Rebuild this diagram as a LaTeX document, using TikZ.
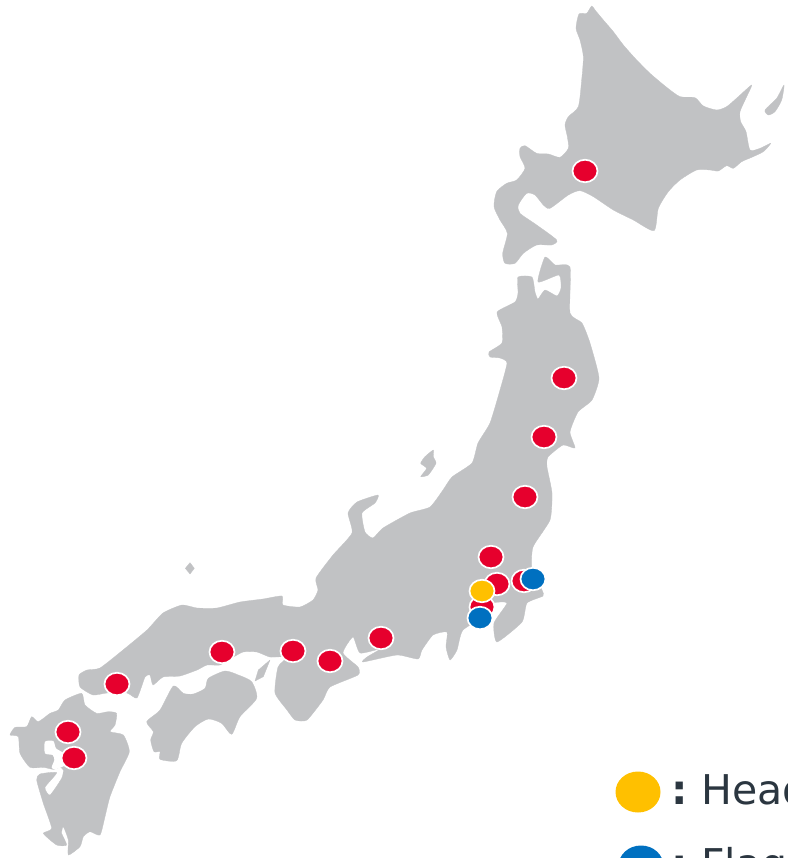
\documentclass[tikz,border=0pt]{standalone}
\usepackage{fontspec}
\setmainfont{DejaVu Sans}
\definecolor{land}{HTML}{C1C2C4}
\definecolor{redd}{HTML}{E6002D}
\definecolor{yell}{HTML}{FFC000}
\definecolor{blu}{HTML}{0070C0}
\definecolor{ink}{HTML}{2B3640}
\tikzset{
  landmass/.style={fill=land,draw=land,line width=0.3pt,line join=round},
  site/.style={ellipse,minimum width=25pt,minimum height=22.5pt,inner sep=0pt,draw=white,line width=1.7pt},
  key/.style={ellipse,inner sep=0pt,minimum width=45pt,minimum height=41pt},
  legendtext/.style={anchor=base west,inner sep=0pt,text=ink,font=\fontsize{41}{41}\selectfont}
}
\usetikzlibrary{shapes.geometric}
\begin{document}
\begin{tikzpicture}[x=1pt,y=-1pt]
\useasboundingbox (0,0) rectangle (787,858);
\clip (0,0) rectangle (787,858);
% Hokkaido
\begin{scope}[shift={(480,0)},scale=1/3]
\fill[landmass] plot[smooth cycle,tension=0.4] coordinates{(335,18)(345,30)(370,60)(400,95)(430,135)(470,180)(510,220)(560,262)(600,290)(645,293)(670,318)(710,330)(740,320)(775,290)(815,255)(800,290)(780,335)(782,365)(798,395)(810,450)(840,445)(872,430)(850,455)(815,472)(785,485)(760,505)(740,497)(715,513)(690,510)(650,510)(600,540)(565,575)(535,625)(522,692)(460,660)(400,630)(340,590)(300,572)(265,585)(210,625)(190,615)(165,585)(140,580)(115,615)(120,640)(170,675)(230,720)(215,735)(170,735)(130,760)(105,790)(75,790)(68,760)(82,700)(60,660)(42,620)(50,575)(80,550)(110,540)(135,505)(120,470)(120,445)(135,437)(170,460)(205,462)(240,472)(265,445)(262,410)(255,375)(265,350)(295,320)(305,240)(310,170)(300,120)(288,85)(297,42)(320,40)};
\fill[landmass] plot[smooth cycle,tension=0.4] coordinates{(912,255)(890,295)(855,330)(865,345)(885,335)(905,300)};
\end{scope}
% Honshu
\fill[landmass] plot[smooth cycle,tension=0.33] coordinates{(518,277)(532,277)(535,292)(538,299)(545,290)(557,296)(561,288)(559,275)(538,282)(545,257)(555,265)(570,267)(570,313)(582,323)(590,343)(599,378)(592,400)(578,412)(570,432)(575,448)(563,445)(548,457)(547,467)(552,493)(550,520)(533,547)(532,570)(542,590)(543,596)(527,603)(522,622)(497,642)(494,623)(507,603)(493,603)(490,613)(463,630)(457,650)(450,660)(446,647)(447,632)(433,635)(422,650)(418,659)(397,655)(363,662)(367,657)(380,649)(360,653)(353,637)(343,653)(358,667)(358,675)(330,687)(323,700)(307,720)(295,720)(287,710)(275,693)(278,667)(287,657)(270,657)(257,652)(243,652)(232,658)(220,665)(207,665)(197,670)(180,676)(163,677)(153,685)(150,675)(145,677)(137,698)(127,693)(107,693)(93,695)(80,687)(79,675)(87,670)(100,668)(123,650)(147,630)(163,613)(182,605)(197,608)(217,608)(240,602)(263,599)(282,596)(283,605)(300,607)(313,600)(318,590)(316,578)(333,555)(352,533)(348,513)(357,502)(378,495)(375,503)(362,513)(365,532)(373,538)(383,528)(410,513)(430,507)(443,490)(452,477)(472,463)(478,443)(490,423)(500,390)(507,363)(500,358)(490,357)(489,352)(502,343)(502,327)(497,312)(515,302)(518,293)};
% Sado
\begin{scope}[shift={(400,250)},scale=1/3]
\fill[landmass] plot[smooth cycle,tension=0.3] coordinates{(100,600)(75,620)(62,640)(80,655)(62,680)(85,675)(108,640)(100,620)};
\end{scope}
\begin{scope}[shift={(0,550)},scale=1/3]
% Oki, Awaji
\fill[landmass] (570,38)--(583,55)--(570,72)--(556,55)--cycle;
\fill[landmass] (810,330)--(790,380)--(765,393)--(775,360)--cycle;
% Shikoku
\fill[landmass] plot[smooth cycle,tension=0.4] coordinates{(520,408)(550,430)(580,432)(615,415)(625,385)(675,363)(715,375)(755,395)(770,445)(720,500)(695,553)(665,520)(625,507)(585,530)(545,580)(530,632)(480,628)(480,605)(462,605)(452,570)(460,545)(440,515)(480,480)};
\end{scope}
% Kyushu
\begin{scope}[shift={(0,680)},scale=1/3]
\fill[landmass] plot[smooth cycle,tension=0.35] coordinates{(245,40)(255,75)(290,100)(325,95)(350,100)(345,135)(330,155)(370,165)(388,215)(360,275)(330,350)(315,410)(300,465)(270,455)(250,470)(240,500)(205,525)(205,480)(190,440)(185,460)(200,495)(170,495)(130,460)(155,445)(130,370)(110,300)(120,282)(170,278)(135,322)(150,345)(185,295)(190,270)(180,262)(160,268)(130,262)(90,262)(60,220)(55,170)(30,165)(45,142)(80,140)(95,110)(115,125)(150,100)(175,90)(195,60)};
\fill[white] plot[smooth cycle,tension=0.4] coordinates{(135,185)(160,183)(168,205)(190,220)(195,255)(165,268)(155,262)(163,240)(158,225)(135,220)};
\end{scope}
% Sites
\foreach \n/\x/\y in {a/585/171,b/564/378,c/544/437,d/525/497,e/491/557,f/497/584,g/524/581,h/482/607,i/381/638,j/330/661,k/293/651,l/222/652,m/117/684,n/68/732,o/74/758}
  \node[site,fill=redd] (\n) at (\x,\y) {};
\node[site,fill=yell] (hq) at (482,591) {};
\node[site,fill=blu] (fa) at (533,579) {};
\node[site,fill=blu] (fb) at (480,618) {};
% Legend
\node[key,fill=yell] (ky) at (638,792) {};
\node[key,fill=blu] (kb) at (641,866) {};
\node[legendtext] (t1) at (671,804) {\textbf{:}};
\node[legendtext] (t2) at (701,804) {Head};
\node[legendtext] (t3) at (671,878) {\textbf{:}};
\node[legendtext] (t4) at (701,878) {Flag};
\end{tikzpicture}
\end{document}
